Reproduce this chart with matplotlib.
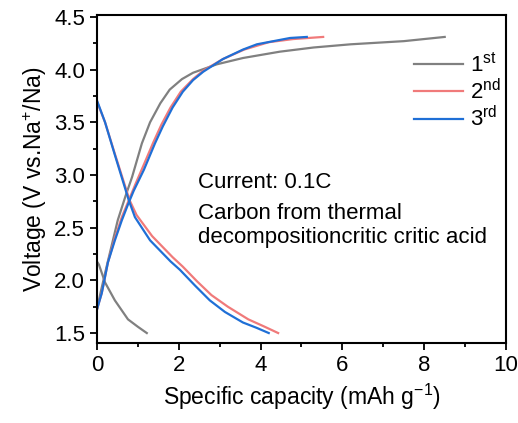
import matplotlib.pyplot as plt
from matplotlib.ticker import MultipleLocator

plt.rcParams['font.family'] = ['Liberation Sans', 'DejaVu Sans']
plt.rcParams['mathtext.default'] = 'regular'

# charge curves (voltage rising)
chg1_x = [0.0, 0.1, 0.25, 0.51, 0.7, 0.86, 1.1, 1.3, 1.55, 1.78, 2.08, 2.35, 2.93, 3.57,
          4.47, 5.3, 6.2, 7.5, 8.5]
chg1_v = [1.72, 1.9, 2.15, 2.57, 2.8, 2.98, 3.3, 3.5, 3.68, 3.81, 3.91, 3.97, 4.05, 4.11,
          4.17, 4.21, 4.24, 4.27, 4.31]
chg2_x = [0.0, 0.12, 0.27, 0.44, 0.61, 0.78, 0.95, 1.15, 1.38, 1.58, 1.8, 2.05, 2.35, 2.6,
          3.08, 3.6, 4.2, 4.8, 5.53]
chg2_v = [1.72, 1.88, 2.17, 2.4, 2.6, 2.76, 2.92, 3.1, 3.31, 3.48, 3.64, 3.79, 3.91, 3.99,
          4.1, 4.19, 4.26, 4.29, 4.31]
chg3_x = [0.0, 0.12, 0.27, 0.44, 0.61, 0.76, 0.9, 1.15, 1.42, 1.61, 1.85, 2.1, 2.35, 2.6,
          3.08, 3.57, 3.91, 4.72, 5.13]
chg3_v = [1.72, 1.88, 2.17, 2.38, 2.57, 2.72, 2.85, 3.05, 3.3, 3.46, 3.64, 3.79, 3.9, 3.98,
          4.1, 4.19, 4.24, 4.3, 4.31]

# discharge curves (voltage falling)
dis1_x = [0.0, 0.05, 0.2, 0.44, 0.76, 1.0, 1.22]
dis1_v = [2.18, 2.15, 1.98, 1.81, 1.63, 1.56, 1.5]
dis2_x = [0.0, 0.2, 0.44, 0.8, 0.97, 1.35, 1.85, 2.1, 2.45, 2.8, 3.2, 3.7, 4.1, 4.43]
dis2_v = [3.7, 3.5, 3.2, 2.76, 2.62, 2.42, 2.22, 2.13, 1.99, 1.86, 1.75, 1.63, 1.56, 1.5]
dis3_x = [0.0, 0.2, 0.44, 0.78, 0.93, 1.3, 1.8, 2.03, 2.4, 2.76, 3.13, 3.57, 3.9, 4.2]
dis3_v = [3.71, 3.5, 3.19, 2.76, 2.6, 2.38, 2.18, 2.1, 1.95, 1.81, 1.7, 1.6, 1.55, 1.5]

labels = ['1$^{st}$', '2$^{nd}$', '3$^{rd}$']
colors = ['#808080', '#f07a7a', '#1f6fd6']

fig = plt.figure(figsize=(5.18, 4.23), dpi=100)
ax = fig.add_axes([0.187, 0.189, 0.79, 0.776])

curves = [(chg1_x, chg1_v, dis1_x, dis1_v),
          (chg2_x, chg2_v, dis2_x, dis2_v),
          (chg3_x, chg3_v, dis3_x, dis3_v)]
for (cx, cv, dx, dv), lab, col in zip(curves, labels, colors):
    ax.plot(cx, cv, color=col, lw=1.6, label=lab)
    ax.plot(dx, dv, color=col, lw=1.6)

ax.set_xlim(0, 10)
ax.set_ylim(1.405, 4.52)
ax.xaxis.set_major_locator(MultipleLocator(2))
ax.xaxis.set_minor_locator(MultipleLocator(1))
ax.yaxis.set_major_locator(MultipleLocator(0.5))
ax.yaxis.set_minor_locator(MultipleLocator(0.25))
ax.tick_params(which='major', direction='out', length=5, width=1.3, labelsize=16)
ax.tick_params(which='minor', direction='out', length=3, width=1.3)
for s in ax.spines.values():
    s.set_linewidth(1.5)

ax.set_xlabel('Specific capacity (mAh g$^{-1}$)', fontsize=16.5)
ax.set_ylabel('Voltage (V vs.Na$^{+}$/Na)', fontsize=16.5)

ax.text(2.47, 2.93, 'Current: 0.1C', fontsize=16, va='center')
ax.text(2.47, 2.52, 'Carbon from thermal\ndecompositioncritic critic acid',
        fontsize=16, va='center', linespacing=1.15)

ax.legend(loc='upper right', bbox_to_anchor=(1.035, 0.945), frameon=False,
          fontsize=16, handlelength=2.2, handletextpad=0.3, labelspacing=0.1)

fig.savefig('out.png', dpi=100)
